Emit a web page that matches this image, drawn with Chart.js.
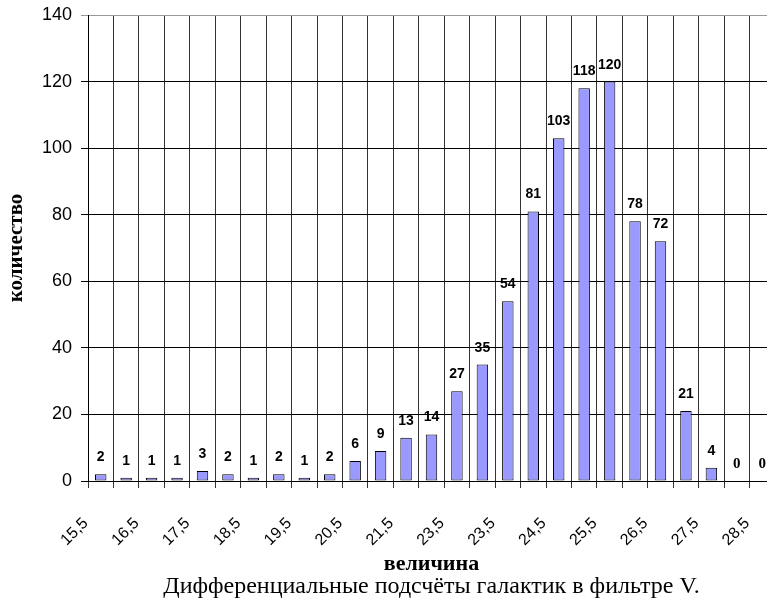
<!DOCTYPE html>
<html>
<head>
<meta charset="utf-8">
<script src="https://cdn.jsdelivr.net/npm/chart.js@4"></script>
<style>
  html, body { margin: 0; padding: 0; background: #fff; overflow: hidden; width: 767px; height: 599px; }
  canvas { display: block; }
</style>
</head>
<body>
<canvas id="c" width="776" height="599"></canvas>
<script>
// Magnitude bins (V filter), half-magnitude steps
const magnitudes = [15.5, 16, 16.5, 17, 17.5, 18, 18.5, 19, 19.5, 20, 20.5, 21, 21.5, 22,
                    22.5, 23, 23.5, 24, 24.5, 25, 25.5, 26, 26.5, 27, 27.5, 28, 28.5];
// Galaxy counts per bin
const counts = [2, 1, 1, 1, 3, 2, 1, 2, 1, 2, 6, 9, 13, 14,
                27, 35, 54, 81, 103, 118, 120, 78, 72, 21, 4, 0, 0];
// Axis labels printed under every other bin
const tickLabels = ['15,5', '16,5', '17,5', '18,5', '19,5', '20,5', '21,5',
                    '23,5', '23,5', '24,5', '25,5', '26,5', '27,5', '28,5'];
const yMin = 0, yMax = 140, yStep = 20;

const SANS = '"Liberation Sans", Arial, sans-serif';
const SERIF = '"Liberation Serif", "Times New Roman", serif';

// Value printed above each bar
const valueLabels = {
  id: 'valueLabels',
  afterDatasetsDraw(chart) {
    const ctx = chart.ctx;
    const meta = chart.getDatasetMeta(0);
    ctx.save();
    ctx.fillStyle = '#000';
    ctx.textAlign = 'center';
    ctx.textBaseline = 'alphabetic';
    meta.data.forEach((bar, i) => {
      const v = counts[i];
      ctx.font = v === 0 ? 'bold 15px ' + SERIF : 'bold 14px ' + SANS;
      ctx.fillText(String(v), bar.x, bar.y - 13);
    });
    ctx.restore();
  }
};

new Chart(document.getElementById('c'), {
  type: 'bar',
  data: {
    labels: magnitudes,
    datasets: [{
      data: counts,
      backgroundColor: '#9999FF',
      borderColor: '#000',
      borderWidth: 1,
      borderSkipped: false,
      categoryPercentage: 1,
      barPercentage: 0.45
    }]
  },
  options: {
    responsive: false,
    animation: false,
    layout: { padding: { top: 15, right: 1, left: 0, bottom: 0 } },
    plugins: {
      legend: { display: false },
      tooltip: { enabled: false },
      title: {
        display: true,
        position: 'bottom',
        fullSize: false,
        text: 'Дифференциальные подсчёты галактик в фильтре V.',
        color: '#000',
        font: { family: SERIF, size: 24, weight: 'normal', lineHeight: 1 },
        padding: { top: 0, bottom: 0 }
      }
    },
    scales: {
      x: {
        type: 'category',
        offset: true,
        grid: { offset: true, color: '#333', lineWidth: 1, tickLength: 7, drawOnChartArea: true },
        border: { color: '#000' },
        ticks: {
          autoSkip: false,
          maxRotation: 45,
          minRotation: 45,
          color: '#000',
          font: { family: SANS, size: 16 },
          padding: 26,
          labelOffset: -15,
          callback: (v, i) => (i % 2 === 0 ? tickLabels[i / 2] : '')
        },
        title: {
          display: true,
          text: 'величина',
          color: '#000',
          font: { family: SERIF, size: 22, weight: 'bold', lineHeight: 1 },
          padding: 0
        },
        afterFit: s => { s.height = 94; s.paddingLeft = 0; s.paddingRight = 0; }
      },
      y: {
        min: yMin,
        max: yMax,
        ticks: { stepSize: yStep, color: '#000', font: { family: SANS, size: 18 }, padding: 9 },
        grid: {
          color: c => (c.tick && c.tick.value === yMax ? '#999' : '#000'),
          tickLength: 7
        },
        border: { color: '#000' },
        title: {
          display: true,
          text: 'количество',
          color: '#000',
          font: { family: SERIF, size: 21, weight: 'bold' },
          padding: { top: 4, bottom: 0 }
        },
        afterFit: s => { s.width = 88; s.paddingTop = 0; s.paddingBottom = 0; }
      }
    }
  },
  plugins: [valueLabels]
});
</script>
</body>
</html>
